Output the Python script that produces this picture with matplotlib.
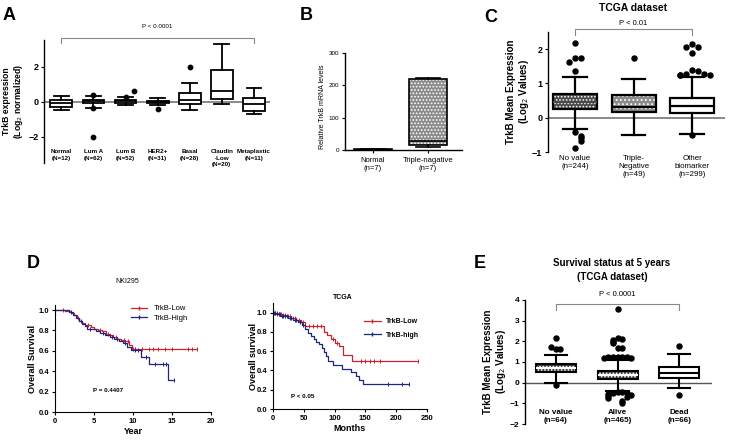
import numpy as np
import matplotlib.pyplot as plt
from matplotlib.lines import Line2D
from matplotlib.patches import Rectangle

plt.rcParams['font.family'] = ['Liberation Sans', 'DejaVu Sans']
plt.rcParams['hatch.linewidth'] = 0.8

# ---------------- data ----------------
# A: TrkB expression by subtype
a_labels = ['Normal\n(N=12)', 'Lum A\n(N=62)', 'Lum B\n(N=52)', 'HER2+\n(N=31)',
            'Basal\n(N=28)', 'Claudin\n-Low\n(N=20)', 'Metaplastic\n(N=11)']
a_q1 = [-0.29, -0.05, -0.05, -0.05, -0.1, 0.19, -0.53]
a_med = [-0.05, 0.02, 0.03, 0.0, 0.1, 0.61, -0.1]
a_q3 = [0.1, 0.1, 0.1, 0.07, 0.48, 1.81, 0.23]
a_lo = [-0.48, -0.35, -0.2, -0.2, -0.48, -0.1, -0.7]
a_hi = [0.34, 0.35, 0.25, 0.2, 1.09, 3.33, 0.82]
a_out = [[], [0.4, -0.35, -2.0], [0.28, 0.6], [-0.4], [2.0], [], []]

# B: relative TrkB mRNA
b_labels = ['Normal\n(n=7)', 'Triple-nagative\n(n=7)']
b_q1 = [0.5, 15]
b_med = [1, 27]
b_q3 = [2, 220]
b_lo = [0, 9]
b_hi = [3, 224]

# C: TCGA dataset
c_labels = ['No value\n(n=244)', 'Triple-\nNegative\n(n=49)', 'Other\nbiomarker\n(n=299)']
c_q1 = [0.25, 0.18, 0.14]
c_med = [0.45, 0.32, 0.35]
c_q3 = [0.68, 0.65, 0.58]
c_lo = [-0.33, -0.5, -0.48]
c_hi = [1.2, 1.14, 1.2]
c_out = [[2.17, 1.75, 1.75, 1.62, 1.35, -0.42, -0.52, -0.6, -0.68, -0.87],
         [1.73],
         [2.15, 2.05, 2.05, 1.88, 1.4, 1.35, 1.28, 1.27, 1.26, 1.25, 1.25, -0.51]]

# D: Kaplan-Meier, NKI295 (years)
nki_low_t = [0, 1.3, 2.0, 2.4, 2.8, 3.1, 3.5, 3.9, 4.6, 5.0, 5.5, 6.0, 6.5, 7.0, 7.5, 8.0, 8.5, 9.0, 9.5, 9.9]
nki_low_s = [1.0, 0.99, 0.97, 0.95, 0.92, 0.89, 0.87, 0.85, 0.83, 0.81, 0.80, 0.79, 0.77, 0.76, 0.74, 0.72, 0.71, 0.70, 0.66, 0.62]
nki_low_end = 18.2
nki_low_cens = [1.0, 3.0, 4.2, 5.8, 6.8, 7.8, 8.8, 9.3, 10.0, 10.3, 11.2, 12.0, 12.6, 13.2, 14.1, 15.0, 17.1, 17.6, 18.2]
nki_high_t = [0, 1.8, 2.3, 2.7, 3.1, 3.5, 3.9, 4.1, 5.2, 5.8, 6.4, 7.0, 7.6, 8.2, 8.7, 9.2, 9.7, 11.0, 12.1, 14.5]
nki_high_s = [1.0, 0.98, 0.95, 0.92, 0.89, 0.86, 0.84, 0.81, 0.79, 0.78, 0.76, 0.74, 0.72, 0.70, 0.68, 0.64, 0.61, 0.54, 0.47, 0.31]
nki_high_end = 15.3
nki_high_cens = [2.0, 3.3, 4.5, 6.1, 7.3, 8.0, 9.0, 10.2, 10.6, 11.7, 12.8, 13.8, 14.2, 15.3]

# D: Kaplan-Meier, TCGA (months)
tc_low_t = [0, 8, 15, 22, 30, 38, 45, 52, 82, 88, 94, 101, 107, 113, 128]
tc_low_s = [1.0, 0.99, 0.98, 0.96, 0.94, 0.92, 0.90, 0.86, 0.80, 0.77, 0.73, 0.69, 0.65, 0.56, 0.50]
tc_low_end = 235
tc_low_cens = [3, 6, 10, 13, 17, 20, 25, 28, 33, 36, 42, 48, 59, 65, 71, 78, 97, 104, 143, 150, 158, 164, 174, 235]
tc_high_t = [0, 5, 12, 18, 25, 32, 40, 47, 52, 57, 62, 66, 70, 74, 79, 83, 86, 90, 98, 112, 127, 134, 139, 146]
tc_high_s = [1.0, 0.99, 0.97, 0.96, 0.94, 0.92, 0.90, 0.87, 0.83, 0.79, 0.76, 0.73, 0.70, 0.67, 0.63, 0.59, 0.55, 0.50, 0.46, 0.42, 0.38, 0.34, 0.30, 0.26]
tc_high_end = 220
tc_high_cens = [2, 4, 7, 9, 11, 14, 16, 19, 22, 27, 30, 35, 38, 44, 48, 187, 210, 220]

# E: survival status at 5 years
e_labels = ['No value\n(n=64)', 'Alive\n(n=465)', 'Dead\n(n=66)']
e_q1 = [0.5, 0.16, 0.24]
e_med = [0.69, 0.37, 0.48]
e_q3 = [0.9, 0.56, 0.74]
e_lo = [-0.03, -0.4, -0.24]
e_hi = [1.33, 1.09, 1.38]
e_out = [[2.15, 1.62, 1.62, 1.72, -0.12],
         [3.55, 2.15, 2.1, 2.05, 1.95, 1.9, 1.7, 1.7, 1.25, 1.25, 1.25, 1.22, 1.22, 1.2, 1.2,
          -0.45, -0.45, -0.5, -0.5, -0.55, -0.6, -0.65, -0.7, -0.72, -0.88, -1.0],
         [1.78, -0.6]]

RED = '#cc2230'
BLUE = '#1c2580'

W, H = 729, 440
fig = plt.figure(figsize=(W / 100, H / 100), dpi=100)


def px_axes(l, t, r, b):
    return fig.add_axes([l / W, 1 - b / H, (r - l) / W, (b - t) / H])


def ftext(x, y, s, **kw):
    fig.text(x / W, 1 - y / H, s, ha='center', va='center', **kw)


def style(ax, bottom=False, fs=6):
    for side in ['top', 'right']:
        ax.spines[side].set_visible(False)
    ax.spines['bottom'].set_visible(bottom)
    ax.spines['left'].set_linewidth(1.0)
    ax.spines['bottom'].set_linewidth(1.0)
    ax.tick_params(axis='y', length=2.5, width=0.8, pad=1.5, labelsize=fs)
    for lab in ax.get_yticklabels():
        lab.set_fontweight('bold')


def spread(vals, tol, step):
    xs, seen = [], []
    for v in vals:
        k = sum(abs(v - s) < tol for s in seen)
        seen.append(v)
        j = (k + 1) // 2 * (1 if k % 2 else -1)
        xs.append(j * step)
    return np.array(xs)


def boxes(ax, q1, med, q3, lo, hi, width, capw, lw, faces=None, hatches=None, medcols=None):
    n = len(q1)
    pos = np.arange(1, n + 1)
    stats = [dict(q1=q1[i], med=med[i], q3=q3[i], whislo=lo[i], whishi=hi[i]) for i in range(n)]
    res = ax.bxp(stats, positions=pos, widths=width, capwidths=capw, patch_artist=True,
                 showfliers=False,
                 boxprops=dict(facecolor='none', edgecolor='black', linewidth=lw),
                 medianprops=dict(color='black', linewidth=lw),
                 whiskerprops=dict(color='black', linewidth=lw),
                 capprops=dict(color='black', linewidth=lw), zorder=3)
    for i in range(n):
        face = faces[i] if faces else 'white'
        hatch = hatches[i] if hatches else None
        ax.add_patch(Rectangle((pos[i] - width / 2, q1[i]), width, q3[i] - q1[i],
                               facecolor=face, edgecolor='white', lw=0, hatch=hatch, zorder=2.5))
        if medcols:
            res['medians'][i].set_color(medcols[i])
    return pos


def bracket(ax, x1, x2, y, drop, text, ty, fs):
    ax.plot([x1, x1, x2, x2], [y - drop, y, y, y - drop], color='#888888', lw=0.8, clip_on=False)
    ax.text((x1 + x2) / 2, ty, text, ha='center', va='center', fontsize=fs, clip_on=False)


# ---------------- A ----------------
axA = px_axes(44, 40, 270, 163)
axA.set_xlim(0.46, 7.5)
axA.set_ylim(-3.5, 3.54)
axA.axhline(0, color='#777777', lw=1.2, zorder=1)
posA = boxes(axA, a_q1, a_med, a_q3, a_lo, a_hi, 0.68, 0.46, 1.3)
for p, vals in zip(posA, a_out):
    if vals:
        axA.scatter(p + spread(vals, 0.4, 0.25), vals, s=10, color='black', zorder=4, clip_on=False)
for p, lab in zip(posA, a_labels):
    axA.text(p, -2.72, lab, ha='center', va='top', fontsize=4.5, fontweight='bold', linespacing=1.3)
axA.set_xticks([])
axA.set_yticks([-2, 0, 2])
style(axA, fs=6.5)
axA.set_ylabel('TrkB expression\n(Log$_2$ normalized)', fontsize=6.2, fontweight='bold', linespacing=1.15)
axA.yaxis.set_label_coords(-0.082, 0.5)
bracket(axA, 1, 7, 3.66, 0.3, 'P < 0.0001', 4.3, 4.5)

# ---------------- B ----------------
axB = px_axes(345, 53, 462, 150)
axB.set_xlim(0.49, 2.62)
axB.set_ylim(0, 300)
boxes(axB, b_q1, b_med, b_q3, b_lo, b_hi, 0.7, 0.45, 1.2,
      faces=['white', '#8a8a8a'], hatches=[None, '.....'])
axB.set_xticks([1, 2])
axB.set_xticklabels(b_labels, fontsize=5.5)
axB.set_yticks([0, 100, 200, 300])
style(axB, bottom=True, fs=4.5)
for lab in axB.get_yticklabels():
    lab.set_fontweight('normal')
axB.tick_params(axis='x', length=2, width=0.8, pad=3)
axB.set_ylabel('Relative TrkB mRNA levels', fontsize=5)
axB.yaxis.set_label_coords(-0.16, 0.45)

# ---------------- C ----------------
axC = px_axes(548, 32, 725, 152)
axC.set_xlim(0.54, 3.56)
axC.set_ylim(-1, 2.5)
axC.axhline(0, color='#888888', lw=1.4, zorder=1)
posC = boxes(axC, c_q1, c_med, c_q3, c_lo, c_hi, 0.75, 0.4, 1.6,
             faces=['#4a4a4a', '#8c8c8c', 'white'], hatches=['.....', '....', None],
             medcols=['#4a4a4a', 'black', 'black'])
for p, vals in zip(posC, c_out):
    axC.scatter(p + spread(vals, 0.14, 0.1), vals, s=13, color='black', zorder=4, clip_on=False)
axC.set_xticks(posC)
axC.set_xticklabels(c_labels, fontsize=5.7, linespacing=1.15)
axC.tick_params(axis='x', length=0, pad=2.5)
axC.set_yticks([-1, 0, 1, 2])
style(axC, fs=6.5)
axC.set_ylabel('TrkB Mean Expression\n(Log$_2$ Values)', fontsize=7, fontweight='bold', linespacing=1.1)
axC.yaxis.set_label_coords(-0.096, 0.5)
bracket(axC, 1, 3, 2.6, 0.18, 'P < 0.01', 2.76, 5.5)
ftext(633, 8, 'TCGA dataset', fontsize=7.5, fontweight='bold')


# ---------------- D ----------------
def km(ax, t, s, t_end, cens, color):
    ax.step(list(t) + [t_end], list(s) + [s[-1]], where='post', color=color, lw=0.9)
    cs = np.array(s)[np.searchsorted(t, cens, side='right') - 1]
    ax.plot(cens, cs, '|', color=color, ms=3, mew=0.7)


def km_style(ax):
    for side in ['top', 'right']:
        ax.spines[side].set_visible(False)
    ax.tick_params(length=2.5, width=0.8, pad=1.5, labelsize=5.5)
    for lab in ax.get_xticklabels() + ax.get_yticklabels():
        lab.set_fontweight('bold')


axD1 = px_axes(55, 305, 211, 412)
km(axD1, nki_low_t, nki_low_s, nki_low_end, nki_low_cens, RED)
km(axD1, nki_high_t, nki_high_s, nki_high_end, nki_high_cens, BLUE)
axD1.set_xlim(0, 20)
axD1.set_ylim(0, 1.05)
axD1.set_xticks([0, 5, 10, 15, 20])
axD1.set_yticks(np.arange(0, 1.01, 0.2))
axD1.set_yticklabels(['0.0', '0.2', '0.4', '0.6', '0.8', '1.0'])
km_style(axD1)
axD1.set_xlabel('Year', fontsize=6.5, fontweight='bold')
axD1.xaxis.set_label_coords(0.5, -0.14)
axD1.set_ylabel('Overall Survival', fontsize=6.5, fontweight='bold')
axD1.yaxis.set_label_coords(-0.115, 0.5)
axD1.text(0.34, 0.2, 'P = 0.4407', transform=axD1.transAxes, fontsize=4.5, fontweight='bold',
          ha='center', va='center')
h1 = [Line2D([], [], color=RED, lw=0.9, marker='|', ms=3),
      Line2D([], [], color=BLUE, lw=0.9, marker='|', ms=3)]
axD1.legend(h1, ['TrkB-Low', 'TrkB-High'], loc='upper left', bbox_to_anchor=(0.45, 1.05),
            frameon=False, fontsize=5.5, handlelength=2.2, labelspacing=0.3, borderpad=0.2)
ftext(127, 281, 'NKI295', fontsize=5)

axD2 = px_axes(273, 303, 427, 409)
km(axD2, tc_low_t, tc_low_s, tc_low_end, tc_low_cens, RED)
km(axD2, tc_high_t, tc_high_s, tc_high_end, tc_high_cens, BLUE)
axD2.set_xlim(0, 250)
axD2.set_ylim(0, 1.1)
axD2.set_xticks([0, 50, 100, 150, 200, 250])
axD2.set_yticks(np.arange(0, 1.01, 0.2))
axD2.set_yticklabels(['0.0', '0.2', '0.4', '0.6', '0.8', '1.0'])
km_style(axD2)
axD2.set_xlabel('Months', fontsize=6.5, fontweight='bold')
axD2.xaxis.set_label_coords(0.5, -0.14)
axD2.set_ylabel('Overall survival', fontsize=6.5, fontweight='bold')
axD2.yaxis.set_label_coords(-0.10, 0.5)
axD2.text(0.19, 0.12, 'P < 0.05', transform=axD2.transAxes, fontsize=4.5, fontweight='bold',
          ha='center', va='center')
h2 = [Line2D([], [], color=RED, lw=0.9, marker='|', ms=3),
      Line2D([], [], color=BLUE, lw=0.9, marker='|', ms=3)]
axD2.legend(h2, ['TrkB-Low', 'TrkB-high'], loc='upper left', bbox_to_anchor=(0.56, 0.9),
            frameon=False, handlelength=2.4, labelspacing=0.9, borderpad=0.2,
            prop=dict(size=5, weight='bold'))
ftext(343, 297, 'TCGA', fontsize=5, fontweight='bold')

# ---------------- E ----------------
axE = px_axes(525, 300, 712, 424)
axE.set_xlim(0.5, 3.53)
axE.set_ylim(-2, 4)
axE.axhline(0, color='#555555', lw=1.0, zorder=1)
posE = boxes(axE, e_q1, e_med, e_q3, e_lo, e_hi, 0.65, 0.36, 1.5,
             faces=['#3a3a3a', '#3a3a3a', 'white'], hatches=['.....', '.....', None],
             medcols=['white', 'white', 'black'])
for p, vals in zip(posE, e_out):
    axE.scatter(p + spread(vals, 0.17, 0.075), vals, s=13, color='black', zorder=4, clip_on=False)
for p, lab in zip(posE, e_labels):
    axE.text(p, -1.25, lab, ha='center', va='top', fontsize=5.8, fontweight='bold', linespacing=1.2)
axE.set_xticks([])
axE.set_yticks([-2, -1, 0, 1, 2, 3, 4])
style(axE, fs=6)
axE.set_ylabel('TrkB Mean Expression\n(Log$_2$ Values)', fontsize=7, fontweight='bold', linespacing=1.1)
axE.yaxis.set_label_coords(-0.09, 0.5)
bracket(axE, 1, 3, 3.8, 0.3, 'P < 0.0001', 4.25, 5.5)
ftext(612, 263, 'Survival status at 5 years', fontsize=7, fontweight='bold')
ftext(612, 277, '(TCGA dataset)', fontsize=7, fontweight='bold')

# ---------------- panel letters ----------------
for letter, x, y in [('A', 9, 16), ('B', 306, 15), ('C', 491, 18), ('D', 33, 264), ('E', 480, 263)]:
    ftext(x, y, letter, fontsize=13, fontweight='bold')

fig.savefig('out.png', dpi=100)
